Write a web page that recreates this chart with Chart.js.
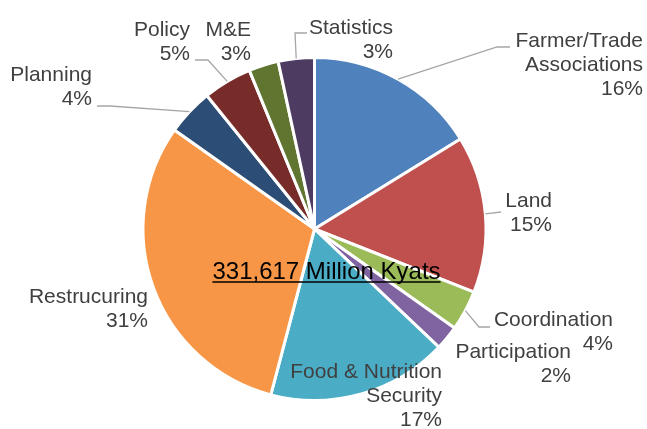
<!DOCTYPE html>
<html>
<head>
<meta charset="utf-8">
<script src="https://cdn.jsdelivr.net/npm/chart.js@4.4.1/dist/chart.umd.min.js"></script>
<style>
  html, body { margin: 0; padding: 0; background: #fff; }
  canvas { display: block; }
</style>
</head>
<body>
<canvas id="budgetPie" width="647" height="429"></canvas>
<script>
// budget shares by component (percent of total)
var categories = [['Farmer/Trade', 'Associations'], 'Land', 'Coordination', 'Participation',
    ['Food & Nutrition', 'Security'], 'Restrucuring', 'Planning', 'Policy', 'M&E', 'Statistics'];
var shares = [16.2, 14.8, 3.8, 2.3, 17.0, 30.7, 4.4, 4.6, 2.8, 3.4];
var totalLabel = '331,617 Million Kyats';

var sliceColors = ['#4F81BD', '#C0504D', '#9BBB59', '#8064A2', '#4BACC6',
    '#F79646', '#2C4D75', '#772C2A', '#5F7530', '#4D3B62'];

// where each data label sits (right edge, first line centre) and its leader bends
var labelSpots = [
    { x: 643, y: 41, leader: [[497, 47], [510, 47]] },
    { x: 552, y: 201, leader: [[501, 212]] },
    { x: 613, y: 320, leader: [[479, 327], [490, 327]] },
    { x: 571, y: 352, leader: null },
    { x: 442, y: 372, leader: null },
    { x: 148, y: 297, leader: null },
    { x: 92, y: 75, leader: [[110, 106], [97, 106]] },
    { x: 190, y: 30, leader: [[208, 60], [195, 60]] },
    { x: 251, y: 30, leader: null },
    { x: 393, y: 28, leader: [[295, 33], [307, 33]] }
];

var pieLabels = {
    id: 'pieLabels',
    afterDatasetsDraw: function(chart) {
        var ctx = chart.ctx;
        var meta = chart.getDatasetMeta(0);
        var values = chart.data.datasets[0].data;
        var total = values.reduce(function(a, b) { return a + b; }, 0);

        ctx.save();
        // leader lines from the middle of each slice's rim
        ctx.strokeStyle = '#A6A6A6';
        ctx.lineWidth = 1.3;
        meta.data.forEach(function(arc, i) {
            var spot = labelSpots[i];
            if (!spot.leader) return;
            var mid = (arc.startAngle + arc.endAngle) / 2;
            ctx.beginPath();
            ctx.moveTo(arc.x + Math.cos(mid) * arc.outerRadius, arc.y + Math.sin(mid) * arc.outerRadius);
            spot.leader.forEach(function(p) { ctx.lineTo(p[0], p[1]); });
            ctx.stroke();
        });

        // category name + rounded percent
        ctx.fillStyle = '#404040';
        ctx.font = '21px "Liberation Sans", Arial, sans-serif';
        ctx.textAlign = 'right';
        ctx.textBaseline = 'middle';
        meta.data.forEach(function(arc, i) {
            var spot = labelSpots[i];
            var name = chart.data.labels[i];
            var lines = Array.isArray(name) ? name.slice() : [name];
            lines.push(Math.round(values[i] / total * 100) + '%');
            lines.forEach(function(line, k) {
                ctx.fillText(line, spot.x, spot.y + k * 24);
            });
        });

        // total, underlined, over the pie
        ctx.fillStyle = '#000';
        ctx.font = '24px "Liberation Sans", Arial, sans-serif';
        ctx.textAlign = 'center';
        ctx.textBaseline = 'alphabetic';
        var cx = 326.5, by = 279;
        ctx.fillText(totalLabel, cx, by);
        var w = ctx.measureText(totalLabel).width;
        ctx.strokeStyle = '#000';
        ctx.lineWidth = 1.6;
        ctx.beginPath();
        ctx.moveTo(cx - w / 2, by + 3);
        ctx.lineTo(cx + w / 2, by + 3);
        ctx.stroke();
        ctx.restore();
    }
};

var ctxPie = document.getElementById('budgetPie').getContext('2d');
var budgetPie = new Chart(ctxPie, {
    type: 'pie',
    data: {
        labels: categories,
        datasets: [{
            data: shares,
            backgroundColor: sliceColors,
            borderColor: '#FFFFFF',
            borderWidth: 3
        }]
    },
    options: {
        responsive: false,
        animation: false,
        layout: {
            padding: { left: 140, right: 158, top: 56, bottom: 27 }
        },
        plugins: {
            legend: { display: false },
            tooltip: { enabled: false }
        }
    },
    plugins: [pieLabels]
});
</script>
</body>
</html>
